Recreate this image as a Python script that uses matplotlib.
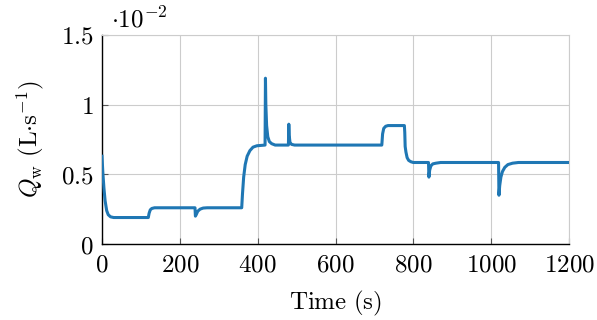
import matplotlib
matplotlib.use("Agg")
import matplotlib.pyplot as plt
from matplotlib.ticker import FuncFormatter

plt.rcParams['mathtext.fontset'] = 'cm'
plt.rcParams['font.family'] = 'serif'
plt.rcParams['font.serif'] = ['DejaVu Serif']

# Time (s) and Q_w (x 1e-2 L/s)
time = [0, 2, 5, 8, 12, 16, 22, 30, 119, 121, 124, 128, 135,
        239, 240, 242, 246, 252, 260, 270, 359, 361, 364, 368, 373,
        380, 388, 398, 419, 420, 421, 423, 426, 430, 436, 445, 479,
        480, 481, 483, 487, 495, 719, 721, 724, 729, 735, 777, 778,
        779, 781, 784, 788, 794, 800, 839, 840, 842, 845, 850, 858,
        870, 1019, 1020, 1022, 1025, 1029, 1035, 1043, 1055, 1070, 1200]
qw = [0.63, 0.52, 0.40, 0.31, 0.24, 0.21, 0.195, 0.19, 0.19, 0.22, 0.245, 0.255, 0.26,
      0.26, 0.20, 0.21, 0.235, 0.25, 0.258, 0.26, 0.26, 0.36, 0.48, 0.57, 0.63,
      0.67, 0.695, 0.705, 0.71, 1.19, 1.00, 0.85, 0.77, 0.735, 0.72, 0.71, 0.71,
      0.86, 0.78, 0.73, 0.715, 0.71, 0.71, 0.79, 0.83, 0.845, 0.85, 0.85, 0.80,
      0.70, 0.66, 0.62, 0.60, 0.59, 0.585, 0.585, 0.48, 0.53, 0.56, 0.575, 0.58,
      0.585, 0.585, 0.35, 0.42, 0.48, 0.52, 0.55, 0.57, 0.58, 0.585, 0.585]

xticks = [0, 200, 400, 600, 800, 1000, 1200]
yticks = [0, 0.5, 1, 1.5]

fig = plt.figure(figsize=(5.97, 3.2), dpi=100)
ax = fig.add_axes([102/597, 76/320, 467/597, 209/320])

ax.plot(time, qw, color='#1f77b4', lw=2.2, solid_joinstyle='round', zorder=3)

ax.set_xlim(0, 1200)
ax.set_ylim(0, 1.5)
ax.set_xticks(xticks)
ax.set_yticks(yticks)
fmt = FuncFormatter(lambda v, p: r'$%g$' % v)
ax.xaxis.set_major_formatter(fmt)
ax.yaxis.set_major_formatter(fmt)
ax.tick_params(direction='in', length=4, width=0.8, color='#555555',
               labelsize=18)
ax.tick_params(axis='x', pad=7)
ax.tick_params(axis='y', pad=6)
ax.grid(True, color='#cccccc', lw=0.8)
ax.set_axisbelow(True)
for s in ['top', 'right']:
    ax.spines[s].set_color('#cccccc')
    ax.spines[s].set_linewidth(0.8)
for s in ['left', 'bottom']:
    ax.spines[s].set_color('black')
    ax.spines[s].set_linewidth(1.0)

ax.set_xlabel(r'$\mathrm{Time\ (s)}$', fontsize=18, labelpad=9)
ax.set_ylabel(r'$Q_\mathrm{w}\ (\mathrm{L{\cdot}s^{-1}})$', fontsize=18, labelpad=11)
fig.text(111/597, 1 - 27/320, r'$\cdot 10^{-2}$', fontsize=18, ha='left', va='baseline')

fig.savefig('out.png', dpi=100)
